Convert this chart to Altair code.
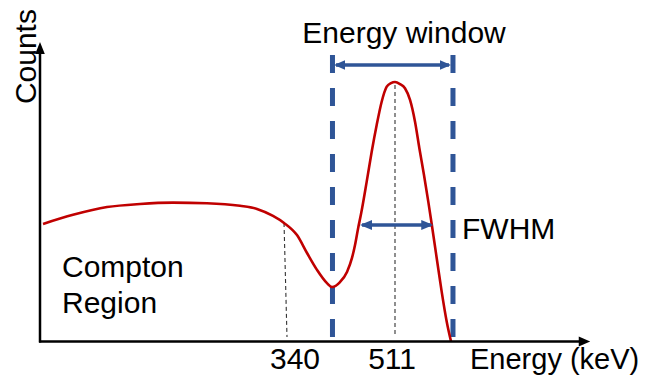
import altair as alt
import pandas as pd

# ---- spectrum (energy in keV, counts in arbitrary units, peak = 100) ----
energy = [-46.3, 1.2, 55.0, 107.3, 159.5, 213.3, 265.6, 292.5, 317.8, 335.3,
          355.8, 371.7, 387.5, 403.3, 411.3, 423.9, 435.0, 442.9, 447.7, 452.4,
          457.5, 466.2, 474.1, 482.0, 489.9, 497.9, 504.7, 511.0, 518.9, 526.8,
          534.8, 542.7, 549.5, 556.9, 563.7, 569.1, 577.0, 584.9, 592.9, 599.7]
counts = [45.3, 48.8, 51.8, 53.0, 53.5, 53.3, 52.3, 51.1, 48.4, 45.7,
          41.0, 34.1, 27.6, 22.5, 21.0, 22.9, 26.8, 32.2, 37.2, 43.4,
          49.5, 61.6, 73.1, 83.4, 92.4, 98.2, 99.6, 100.0, 99.2, 97.6,
          93.1, 84.7, 74.6, 64.2, 53.9, 45.3, 32.2, 19.2, 7.6, 0.0]

# ---- energy window and marked energies ----
window_lo, window_hi = 412.0, 602.8
window_top = 110.4
compton_edge = 340
photopeak = 511
fwhm_level = 44.9
tick_labels = ["340", "511"]

FONT = "Liberation Sans"
BLUE = "#2F5597"
RED = "#C00000"

xs = alt.Scale(domain=[-101.75, 905.25], nice=False, zero=False)
ys = alt.Scale(domain=[-13.68, 128.52], nice=False, zero=False)


def X(f, **kw):
    return alt.X(f, type="quantitative", scale=xs, axis=None, **kw)


def Y(f, **kw):
    return alt.Y(f, type="quantitative", scale=ys, axis=None, **kw)


curve = alt.Chart(pd.DataFrame({"e": energy, "c": counts})).mark_line(
    color=RED, strokeWidth=2.6, interpolate="monotone"
).encode(x=X("e"), y=Y("c"))

# thin dashed guide lines
guides = alt.Chart(pd.DataFrame({
    "x": [335.3, photopeak], "y": [45.7, 98.8],
    "x2": [compton_edge, photopeak], "y2": [1.7, 1.7],
})).mark_rule(color="#333333", strokeWidth=1.1, strokeDash=[4, 3]).encode(
    x=X("x"), y=Y("y"), x2="x2", y2="y2")

# blue dashed window borders
window = alt.Chart(pd.DataFrame({
    "x": [window_lo, window_hi], "y": [window_top, window_top], "y2": [0, 0],
})).mark_rule(color=BLUE, strokeWidth=5, strokeDash=[18, 15]).encode(
    x=X("x"), y=Y("y"), y2="y2")

# arrow shafts
shafts = alt.Chart(pd.DataFrame({
    "x": [417.6, 458.8], "x2": [596.5, 568.0], "y": [106.55, fwhm_level],
})).mark_rule(color=BLUE, strokeWidth=3.5).encode(x=X("x"), x2="x2", y=Y("y"))

RIGHT = "M1,0L-1,-0.85L-1,0.85Z"
LEFT = "M-1,0L1,-0.85L1,0.85Z"
UP = "M0,-1L0.8,1L-0.8,1Z"
heads = alt.Chart(pd.DataFrame({
    "x": [423.1, 591.0, 465.1, 562.1, -51.08, 811.0],
    "y": [106.55, 106.55, fwhm_level, fwhm_level, 113.1, 0.0],
    "shape": [LEFT, RIGHT, LEFT, RIGHT, UP, RIGHT],
    "col": [BLUE, BLUE, BLUE, BLUE, "black", "black"],
    "size": [121, 121, 144, 144, 144, 132],
})).mark_point(filled=True, opacity=1, strokeWidth=0).encode(
    x=X("x"), y=Y("y"),
    shape=alt.Shape("shape:N", scale=None),
    color=alt.Color("col:N", scale=None),
    size=alt.Size("size:Q", scale=None),
)

# axes
axes = alt.Chart(pd.DataFrame({
    "x": [-51.08, -52.7], "x2": [-51.08, 810.0],
    "y": [-0.4, 0.0], "y2": [112.3, 0.0],
})).mark_rule(color="black", strokeWidth=2.5).encode(
    x=X("x"), x2="x2", y=Y("y"), y2="y2")

# texts
centered = alt.Chart(pd.DataFrame({
    "x": [525.3, 352.7, 506.3], "y": [114.84, -10.6, -10.6],
    "t": ["Energy window"] + tick_labels,
})).mark_text(font=FONT, fontSize=30, align="center", baseline="alphabetic",
              color="black").encode(x=X("x"), y=Y("y"), text="t:N")

lefts = alt.Chart(pd.DataFrame({
    "x": [-16.25, -16.25, 617.1], "y": [24.97, 10.87, 39.38],
    "t": ["Compton", "Region", "FWHM"],
})).mark_text(font=FONT, fontSize=30, align="left", baseline="alphabetic",
              color="black").encode(x=X("x"), y=Y("y"), text="t:N")

xlabel = alt.Chart(pd.DataFrame({"x": [629.75], "y": [-10.6], "t": ["Energy (keV)"]})).mark_text(
    font=FONT, fontSize=29, align="left", baseline="alphabetic",
    color="black").encode(x=X("x"), y=Y("y"), text="t:N")

ylabel = alt.Chart(pd.DataFrame({"x": [-58.2], "y": [109.8], "t": ["Counts"]})).mark_text(
    font=FONT, fontSize=30, align="center", baseline="alphabetic", angle=270,
    color="black").encode(x=X("x"), y=Y("y"), text="t:N")

chart = alt.layer(
    guides, window, curve, shafts, heads, axes, centered, lefts, xlabel, ylabel
).properties(
    width=636, height=369, padding=0,
    autosize=alt.AutoSizeParams(type="none"),
).configure_view(stroke=None)

chart.save("out.html", embed_options={"renderer": "svg", "actions": False})
